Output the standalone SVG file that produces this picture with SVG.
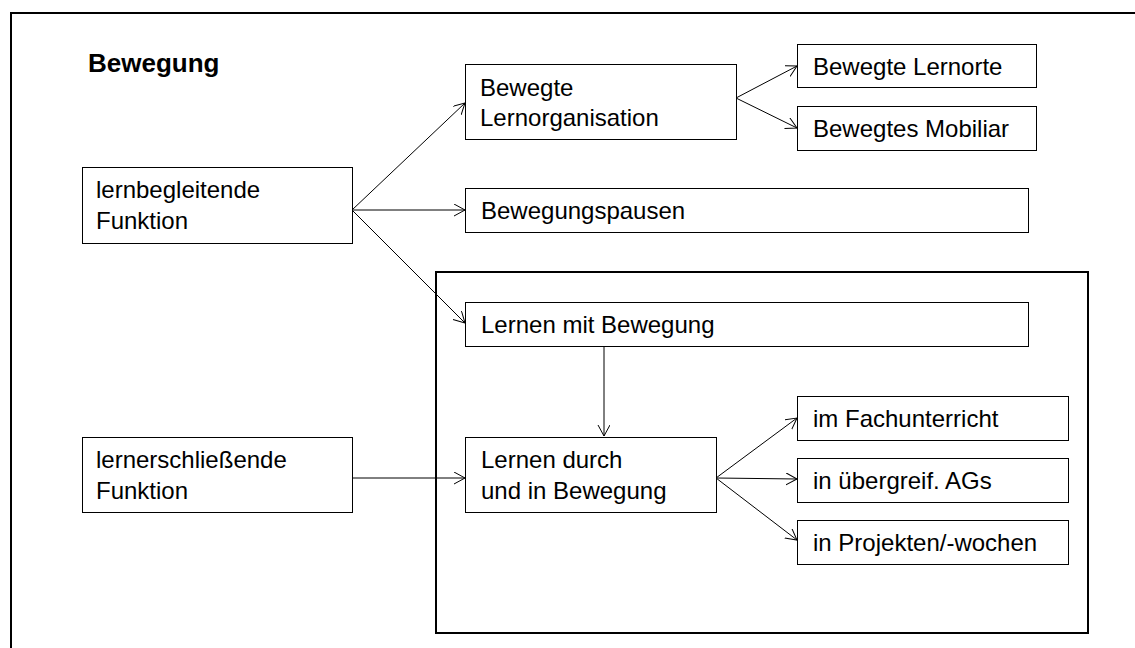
<svg xmlns="http://www.w3.org/2000/svg" width="1135" height="648" viewBox="0 0 1135 648">
<style>
.box{fill:#fff;stroke:#000;stroke-width:1}
.t{font-family:"Liberation Sans",Arial,sans-serif;font-size:24px;fill:#000}
.title{font-family:"Liberation Sans",Arial,sans-serif;font-size:26px;font-weight:bold;fill:#000}
.frame{fill:none;stroke:#000;stroke-width:2}
.c{fill:none;stroke:#000;stroke-width:1;marker-end:url(#arr)}
</style>
<defs>
<marker id="arr" markerUnits="userSpaceOnUse" markerWidth="14" markerHeight="14" refX="11" refY="6" orient="auto">
<path d="M0,0 L11,6 L0,12" fill="none" stroke="#000" stroke-width="1"/>
</marker>
</defs>
<rect width="1135" height="648" fill="#fff"/>
<path class="frame" d="M11,648 V13 H1135"/>
<rect id="inner-frame" class="frame" x="436" y="272" width="652" height="361"/>
<text class="title" x="88" y="72">Bewegung</text>
<g id="connectors">
<line class="c" x1="352" y1="210" x2="465" y2="103"/>
<line class="c" x1="352" y1="210" x2="465" y2="210"/>
<line class="c" x1="352" y1="210" x2="465" y2="323"/>
<line class="c" x1="736" y1="98" x2="797" y2="66"/>
<line class="c" x1="736" y1="98" x2="797" y2="128"/>
<line class="c" x1="604" y1="347" x2="604" y2="436"/>
<line class="c" x1="352" y1="478" x2="465" y2="478"/>
<line class="c" x1="716" y1="478" x2="797" y2="418"/>
<line class="c" x1="716" y1="478" x2="797" y2="479"/>
<line class="c" x1="716" y1="478" x2="797" y2="540"/>
</g>
<g id="n-lernbegleitend"><rect class="box" x="82.5" y="167.5" width="270" height="76"/><text class="t" x="96" y="198">lernbegleitende</text><text class="t" x="96" y="229">Funktion</text></g>
<g id="n-lernerschliessend"><rect class="box" x="82.5" y="437.5" width="270" height="75"/><text class="t" x="96" y="468">lernerschließende</text><text class="t" x="96" y="499">Funktion</text></g>
<g id="n-lernorganisation"><rect class="box" x="465.5" y="64.5" width="271" height="75"/><text class="t" x="480" y="96">Bewegte</text><text class="t" x="480" y="126">Lernorganisation</text></g>
<g id="n-lernorte"><rect class="box" x="797.5" y="44.5" width="239" height="43"/><text class="t" x="813" y="75">Bewegte Lernorte</text></g>
<g id="n-mobiliar"><rect class="box" x="797.5" y="106.5" width="239" height="44"/><text class="t" x="813" y="137">Bewegtes Mobiliar</text></g>
<g id="n-pausen"><rect class="box" x="465.5" y="188.5" width="563" height="44"/><text class="t" x="481" y="219">Bewegungspausen</text></g>
<g id="n-mit"><rect class="box" x="465.5" y="302.5" width="563" height="44"/><text class="t" x="481" y="333">Lernen mit Bewegung</text></g>
<g id="n-durch"><rect class="box" x="465.5" y="437.5" width="251" height="75"/><text class="t" x="481" y="468">Lernen durch</text><text class="t" x="481" y="499">und in Bewegung</text></g>
<g id="n-fach"><rect class="box" x="797.5" y="396.5" width="271" height="44"/><text class="t" x="813" y="427">im Fachunterricht</text></g>
<g id="n-ags"><rect class="box" x="797.5" y="458.5" width="271" height="44"/><text class="t" x="813" y="489">in übergreif. AGs</text></g>
<g id="n-projekte"><rect class="box" x="797.5" y="520.5" width="271" height="44"/><text class="t" x="813" y="551">in Projekten/-wochen</text></g>
</svg>
